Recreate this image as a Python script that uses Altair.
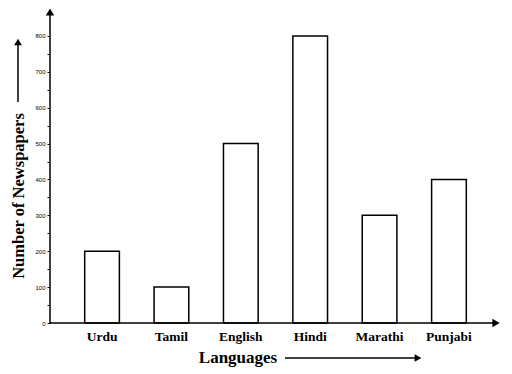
import altair as alt
import pandas as pd

languages = ["Urdu", "Tamil", "English", "Hindi", "Marathi", "Punjabi"]
newspapers = [200, 100, 500, 800, 300, 400]
y_ticks = list(range(0, 801, 50))

df = pd.DataFrame({"Language": languages, "Newspapers": newspapers})
one = pd.DataFrame({"k": [0]})

W, H = 451, 315
SERIF = "Liberation Serif"

x_enc = alt.X("Language:N", sort=languages,
              scale=alt.Scale(paddingInner=0.5, paddingOuter=0.5),
              axis=alt.Axis(title=None, labelAngle=0, labelFont=SERIF, labelFontWeight="bold",
                            labelFontSize=13.5, labelColor="black", labelPadding=6,
                            ticks=False, domain=False))
y_enc = alt.Y("Newspapers:Q",
              scale=alt.Scale(domain=[0, 878], nice=False),
              axis=alt.Axis(title=None, values=y_ticks, grid=False, domain=False,
                            labelExpr="datum.value % 100 == 0 ? datum.label : ''",
                            labelFont="Liberation Sans", labelFontSize=6, labelColor="black",
                            labelPadding=2, tickSize=3, tickColor="black", tickWidth=1))

bars = alt.Chart(df).mark_bar(fill="white", stroke="black", strokeWidth=1.5).encode(x=x_enc, y=y_enc)

def rule(x, x2, y, y2, w=1.5):
    return alt.Chart(one).mark_rule(color="black", strokeWidth=w).encode(
        x=alt.value(x), x2=alt.value(x2), y=alt.value(y), y2=alt.value(y2))

def head(x, y, shape, size=70):
    return alt.Chart(one).mark_point(shape=shape, filled=True, color="black", opacity=1, size=size).encode(
        x=alt.value(x), y=alt.value(y))

def text(x, y, s, angle=0, size=17):
    return alt.Chart(one).mark_text(text=s, font=SERIF, fontWeight="bold", fontSize=size,
                                    color="black", angle=angle, align="center", baseline="middle").encode(
        x=alt.value(x), y=alt.value(y))

layers = [
    bars,
    rule(0, W - 4, H, H),
    head(W - 5, H, "triangle-right"),
    rule(0, 0, H, 4),
    head(0, 4, "triangle-up"),
    text(-31, 188, "Number of Newspapers", angle=270, size=16.5),
    rule(-32, -32, 94, 34),
    head(-32, 34, "triangle-up", 60),
    text(188, 350, "Languages"),
    rule(235, 368, 350, 350),
    head(368, 350, "triangle-right", 60),
]

chart = alt.layer(*layers).properties(
    width=W, height=H,
    autosize=alt.AutoSizeParams(type="none"),
    padding={"left": 42, "top": 0, "right": 3, "bottom": 48},
).configure_view(stroke=None)

chart.save("out.html", embed_options={"renderer": "svg", "actions": False})
